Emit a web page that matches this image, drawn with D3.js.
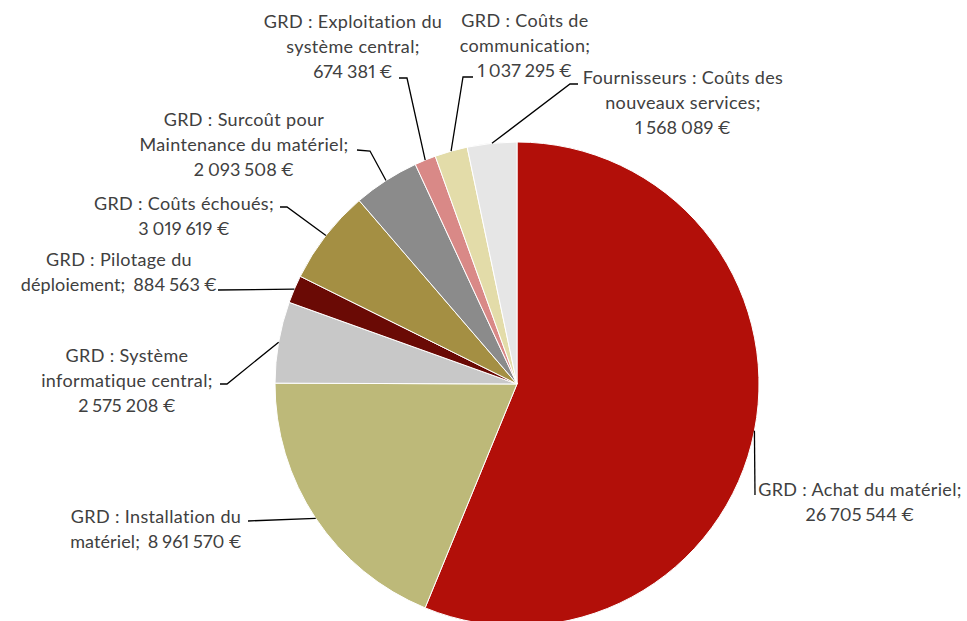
<!DOCTYPE html>
<html>
<head>
<meta charset="utf-8">
<script src="https://cdn.jsdelivr.net/npm/d3@7"></script>
<style>
  body { margin: 0; background: #fff; }
  svg text { font-family: Lato, "Open Sans", sans-serif; font-size: 18px; letter-spacing: 0.35px; fill: #404040; white-space: pre; font-variant-numeric: proportional-nums; }
  svg tspan.num { letter-spacing: 0.1px; word-spacing: -0.8px; }
</style>
</head>
<body>
<div id="chart"></div>
<script>
const width = 967,
  height = 621,
  cx = 517,
  cy = 384,
  radius = 242;

// data, clockwise from 12 o'clock
const categories = [
  "GRD : Achat du matériel",
  "GRD : Installation du matériel",
  "GRD : Système informatique central",
  "GRD : Pilotage du déploiement",
  "GRD : Coûts échoués",
  "GRD : Surcoût pour Maintenance du matériel",
  "GRD : Exploitation du système central",
  "GRD : Coûts de communication",
  "Fournisseurs : Coûts des nouveaux services"
];
const values = [26705544, 8961570, 2575208, 884563, 3019619, 2093508, 674381, 1037295, 1568089];
const colors = ["#b20f09", "#bdb979", "#c8c8c8", "#6a0a05", "#a48f43", "#8b8b8b", "#d98987", "#e3dca9", "#e6e6e6"];

// label text lines as they wrap in the picture
const labelLines = [
  ["GRD : Achat du matériel;", "26 705 544 €"],
  ["GRD : Installation du", "matériel;  8 961 570 €"],
  ["GRD : Système", "informatique central;", "2 575 208 €"],
  ["GRD : Pilotage du", "déploiement;  884 563 €"],
  ["GRD : Coûts échoués;", "3 019 619 €"],
  ["GRD : Surcoût pour", "Maintenance du matériel;", "2 093 508 €"],
  ["GRD : Exploitation du", "système central;", "674 381 €"],
  ["GRD : Coûts de", "communication;", "1 037 295 €"],
  ["Fournisseurs : Coûts des", "nouveaux services;", "1 568 089 €"]
];

// label layout: text centre x, first baseline y, leader elbow [x,y] and tail end [x,y]
const labelPos = [
  { x: 860, y: 496, elbow: [755, 495], tail: [755, 495] },
  { x: 156, y: 523, elbow: [248, 521], tail: [248, 521] },
  { x: 127, y: 362, elbow: [227, 384], tail: [220, 384] },
  { x: 119, y: 266, elbow: [218, 290], tail: [218, 290] },
  { x: 184, y: 210, elbow: [287, 207], tail: [280, 207] },
  { x: 244, y: 126, elbow: [370, 151], tail: [357, 150] },
  { x: 353, y: 28, elbow: [407, 78], tail: [399, 78] },
  { x: 525, y: 27, elbow: [463, 77], tail: [473, 77] },
  { x: 683, y: 84, elbow: [570, 84], tail: [578, 84] }
];

const lineHeight = 25;

const svg = d3.select("#chart")
  .append("svg")
  .attr("width", width)
  .attr("height", height);

const pie = d3.pie().sort(null).value(d => d);
const arcs = pie(values);

const arc = d3.arc().innerRadius(0).outerRadius(radius);
const edgeArc = d3.arc().innerRadius(radius).outerRadius(radius);

const g = svg.append("g").attr("transform", `translate(${cx},${cy})`);

g.selectAll("path.slice")
  .data(arcs)
  .join("path")
  .attr("class", "slice")
  .attr("d", arc)
  .attr("fill", (d, i) => colors[i])
  .attr("stroke", "#fff")
  .attr("stroke-width", 1);

// leader lines
svg.selectAll("polyline.leader")
  .data(arcs)
  .join("polyline")
  .attr("class", "leader")
  .attr("fill", "none")
  .attr("stroke", "#000")
  .attr("stroke-width", 1.3)
  .attr("points", (d, i) => {
    const c = edgeArc.centroid(d);
    const p = labelPos[i];
    return [[cx + c[0], cy + c[1]], p.elbow, p.tail].map(q => q.join(",")).join(" ");
  });

// labels
const labels = svg.selectAll("text.label")
  .data(arcs)
  .join("text")
  .attr("class", "label")
  .attr("text-anchor", "middle")
  .attr("x", (d, i) => labelPos[i].x)
  .attr("y", (d, i) => labelPos[i].y);

labels.selectAll("tspan")
  .data((d, i) => labelLines[i].map(t => ({ t, x: labelPos[i].x })))
  .join("tspan")
  .attr("class", d => d.t.includes("€") ? "num" : null)
  .attr("x", d => d.x)
  .attr("dy", (d, j) => j === 0 ? 0 : lineHeight)
  .text(d => d.t);
</script>
</body>
</html>
